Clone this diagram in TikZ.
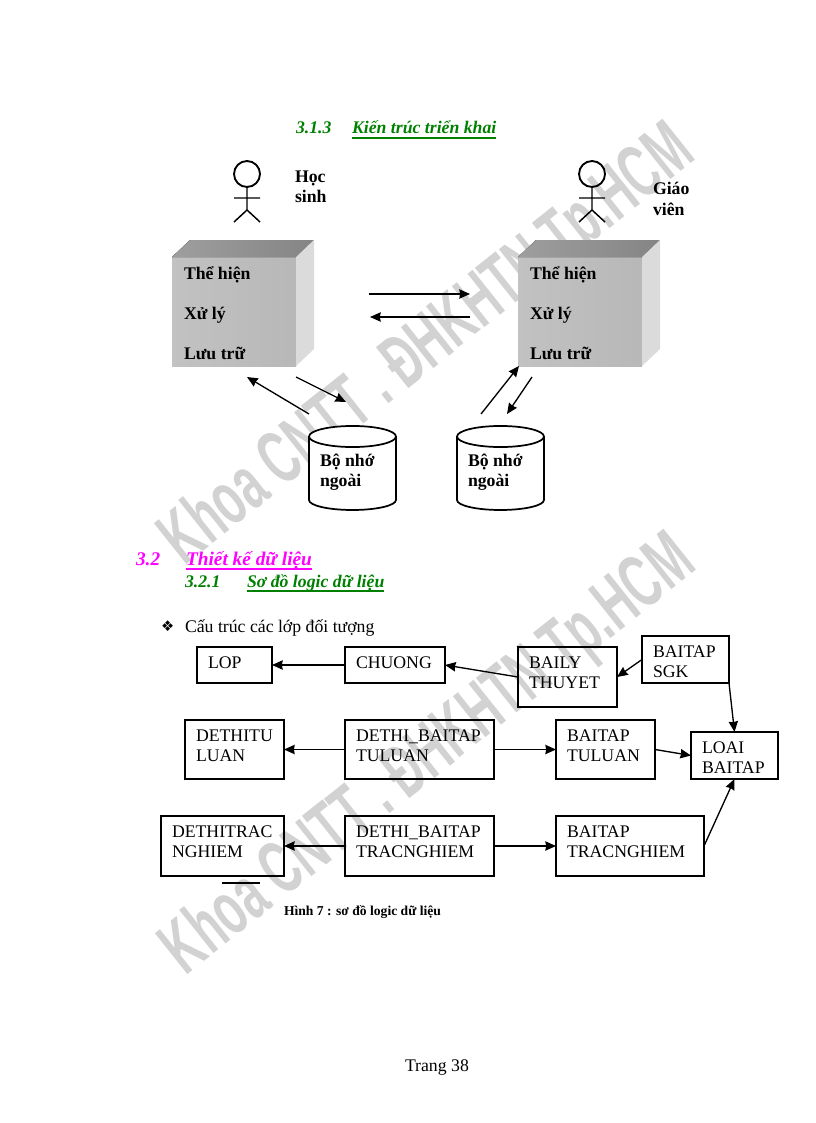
\documentclass[tikz,border=0pt]{standalone}
\usepackage{fontspec}
\setmainfont{Liberation Serif}
\newfontfamily\wmfont{Liberation Sans}
\newfontfamily\symfont{DejaVu Sans}
\usetikzlibrary{arrows.meta}
\definecolor{hgreen}{HTML}{008000}
\definecolor{hpink}{HTML}{FF00FF}
\definecolor{wm}{HTML}{D2D2D2}
\newcommand{\fa}{\fontsize{13.3}{15}\selectfont}
\newcommand{\fb}{\fontsize{13.3}{15}\selectfont\bfseries}
\newcommand{\fh}{\fontsize{13.3}{16}\selectfont\bfseries\itshape}
\newcommand{\fp}{\fontsize{14.5}{16}\selectfont\bfseries\itshape}
\tikzset{
  x=0.75pt,y=-0.75pt,
  txt/.style={anchor=base west,inner sep=0pt,outer sep=0pt},
  lbl/.style={txt,font=\fb},
  green/.style={txt,font=\fh,text=hgreen},
  pink/.style={txt,font=\fp,text=hpink},
  box/.style={draw=black,line width=1.2pt,inner sep=0pt,outer sep=0pt,anchor=north west,font=\fa},
  conn/.style={-{Stealth[length=8pt,width=7pt,inset=0.6pt]},line width=1pt,black},
  ul/.style={line width=1.3pt},
  fig/.style={line width=1.1pt,black},
  cyl/.style={line width=1.3pt,black},
  wmark/.style={inner sep=0pt,text=wm,font=\wmfont\bfseries\fontsize{50}{50}\selectfont},
  cface/.style={draw=none,inner sep=0pt,outer sep=0pt,anchor=north west},
}
\newcommand{\dbox}[7]{%
  \node[box] (#1) at (#2,#3) {\vbox to \dimexpr(#5pt-#3pt)*3/4\relax{\baselineskip=15pt\lineskiplimit=-20pt
    \hbox to \dimexpr(#4pt-#2pt)*3/4\relax{\vrule height 15.75pt width 0pt\hskip 8.25pt #6\hss}%
    \hbox to \dimexpr(#4pt-#2pt)*3/4\relax{\hskip 8.25pt #7\hss}\vss}};}
\newcommand{\cube}[2]{% name, x of front-left
  \fill[left color=black!24,right color=black!28] (#2,257) rectangle ++(124,109);
  \fill[left color=black!38,right color=black!48] (#2,257) -- ++(18,-17) -- ++(124,0) -- ++(-18,17) -- cycle;
  \fill[black!14] (#2+124,257) -- ++(18,-17) -- ++(0,109) -- ++(-18,17) -- cycle;
  \node[cface,minimum width=93pt,minimum height=81.75pt] (#1) at (#2,257) {};
}
\newcommand{\stick}[1]{%
  \draw[line width=1.4pt] (#1,174) circle (9.75pt);
  \draw[fig] (#1,187) -- (#1,210) (#1-13,198) -- (#1+13,198) (#1-13,222) -- (#1,210) -- (#1+13,222);
}
\newcommand{\cylinder}[2]{% name, left x
  \draw[cyl,fill=white] (#2,436.5) -- (#2,500) arc[start angle=180,end angle=360,x radius=32.6pt,y radius=7.5pt] -- (#2+87,436.5);
  \draw[cyl,fill=white] (#2+43.5,436.5) ellipse[x radius=32.6pt,y radius=7.9pt];
  \node[inner sep=0pt,outer sep=0pt,anchor=north west,minimum width=65.25pt,minimum height=63pt] (#1) at (#2,426) {};
}
\begin{document}
\begin{tikzpicture}
\useasboundingbox (0,0) rectangle (816,1123);
% watermarks
\node[wmark,rotate=38.5,xscale=0.675,yscale=1.14] (wm1) at (429,347) {Khoa CNTT . ĐHKHTN Tp.HCM};
\node[wmark,rotate=38.5,xscale=0.675,yscale=1.14] (wm2) at (430,757) {Khoa CNTT . ĐHKHTN Tp.HCM};
% headings
\node[green] (h313) at (296,134) {3.1.3};
\node[green] (h313t) at (352,134) {Kiến trúc triển khai};
\draw[ul,hgreen] ([yshift=-3pt]h313t.base west) -- ([yshift=-3pt]h313t.base east);
\node[pink] (h32) at (136,565) {3.2};
\node[pink] (h32t) at (186,565) {Thiết kế dữ liệu};
\draw[ul,hpink] ([yshift=-3pt]h32t.base west) -- ([yshift=-3pt]h32t.base east);
\node[green] (h321) at (185,587) {3.2.1};
\node[green] (h321t) at (247,587) {Sơ đồ logic dữ liệu};
\draw[ul,hgreen] ([yshift=-3pt]h321t.base west) -- ([yshift=-3pt]h321t.base east);
% actors
\stick{247}
\stick{592}
\node[lbl] (hs1) at (295,183) {Học};
\node[lbl] (hs2) at (295,203) {sinh};
\node[lbl] (gv1) at (653,195) {Giáo};
\node[lbl] (gv2) at (653,215) {viên};
% cubes
\cube{cl}{172}
\cube{cr}{518}
\node[lbl] (cl1) at (184,279) {Thể hiện};
\node[lbl] (cl2) at (184,319) {Xử lý};
\node[lbl] (cl3) at (184,359) {Lưu trữ};
\node[lbl] (cr1) at (530,279) {Thể hiện};
\node[lbl] (cr2) at (530,319) {Xử lý};
\node[lbl] (cr3) at (530,359) {Lưu trữ};
% cylinders
\cylinder{dl}{309}
\cylinder{dr}{457}
\node[lbl] (dl1) at (320,466) {Bộ nhớ};
\node[lbl] (dl2) at (320,486) {ngoài};
\node[lbl] (dr1) at (468,466) {Bộ nhớ};
\node[lbl] (dr2) at (468,486) {ngoài};
% free ends of the arrows
\coordinate (a1) at (369,294); \coordinate (a2) at (470,294);
\coordinate (b1) at (470,317); \coordinate (b2) at (370,317);
\coordinate (c1) at (309,414); \coordinate (c2) at (247,377);
\coordinate (d1) at (296,377); \coordinate (d2) at (346,402);
\coordinate (e1) at (481,414); \coordinate (e2) at (519,366);
\coordinate (f1) at (532,377); \coordinate (f2) at (507,414);
\draw[conn] (a1) -- (a2);
\draw[conn] (b1) -- (b2);
\draw[conn] (c1) -- (c2);
\draw[conn] (d1) -- (d2);
\draw[conn] (e1) -- (e2);
\draw[conn] (f1) -- (f2);
% bullet
\node[txt,font=\symfont\fontsize{11}{11}\selectfont] (bul) at (161,631) {❖};
\node[txt,font=\fa] (sub) at (185,632) {Cấu trúc các lớp đối tượng};
% boxes
\dbox{lop}{197}{647}{272}{683}{LOP}{}
\dbox{chuong}{345}{647}{445}{683}{CHUONG}{}
\dbox{baily}{518}{647}{617}{707}{BAILY}{THUYET}
\dbox{sgk}{642}{636}{729}{683}{BAITAP}{SGK}
\dbox{dtl}{185}{720}{284}{779}{DETHITU}{LUAN}
\dbox{dbtl}{345}{720}{494}{779}{DETHI\_BAITAP}{TULUAN}
\dbox{btl}{556}{720}{655}{779}{BAITAP}{TULUAN}
\dbox{loai}{691}{732}{778}{779}{LOAI}{BAITAP}
\dbox{dtn}{161}{816}{284}{876}{DETHITRAC}{NGHIEM}
\dbox{dbtn}{345}{816}{494}{876}{DETHI\_BAITAP}{TRACNGHIEM}
\dbox{btn}{556}{816}{704}{876}{BAITAP}{TRACNGHIEM}
% connectors
\draw[conn] (chuong.west) -- (lop.east);
\draw[conn] (baily.west) -- (chuong.east);
\draw[conn] (sgk.west) -- (baily.east);
\draw[conn] (sgk.south east) -- (loai.north);
\draw[conn] (dbtl.west) -- (dtl.east);
\draw[conn] (dbtl.east) -- (btl.west);
\draw[conn] (btl.east) -- (loai.west);
\draw[conn] (dbtn.west) -- (dtn.east);
\draw[conn] (dbtn.east) -- (btn.west);
\draw[conn] (btn.east) -- (loai.south);
% stray line under box
\coordinate (s1) at (222,883); \coordinate (s2) at (260,883);
\draw[line width=1.1pt] (s1) -- (s2);
% caption, page number
\node[txt,font=\bfseries\fontsize{10.2}{12}\selectfont] (cap) at (284,915) {Hình 7 : sơ đồ logic dữ liệu};
\node[txt,font=\fa] (page) at (405,1071) {Trang 38};
\end{tikzpicture}
\end{document}
